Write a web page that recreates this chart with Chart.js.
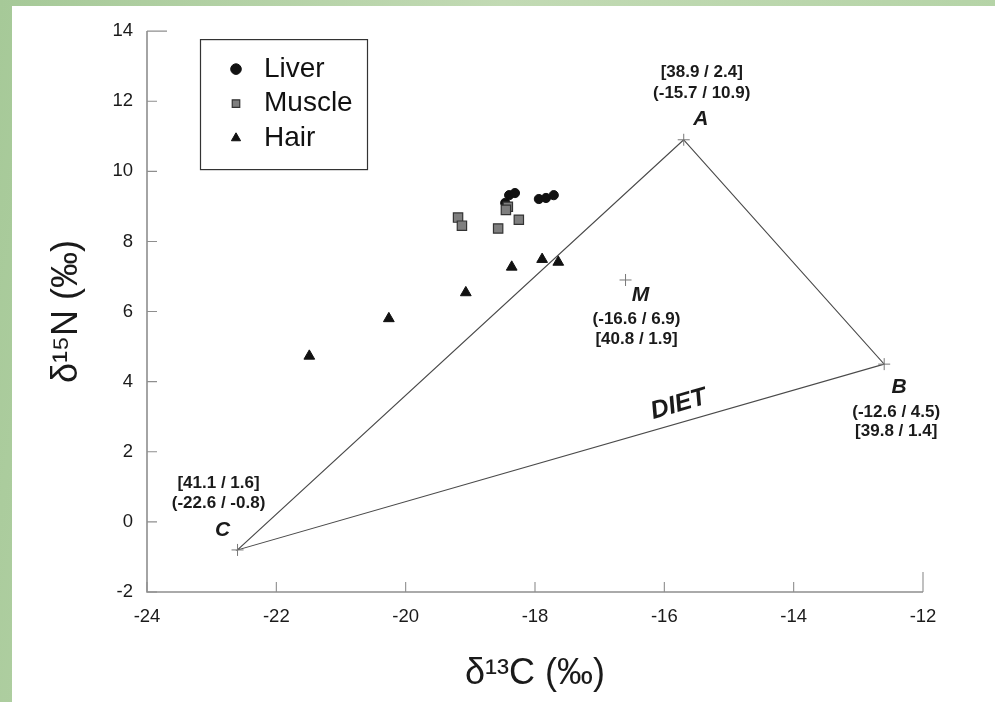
<!DOCTYPE html>
<html>
<head>
<meta charset="utf-8">
<script src="https://cdn.jsdelivr.net/npm/chart.js@4.4.0/dist/chart.umd.min.js"></script>
<style>
  html, body { margin: 0; padding: 0; }
  body {
    width: 995px; height: 702px; overflow: hidden; position: relative;
    background: linear-gradient(100deg, #a6c998, #c2dab4 45%, #b2d2a4);
  }
  #panel { position: absolute; left: 12px; top: 6px; width: 983px; height: 696px; background: #fff; }
</style>
</head>
<body>
<div id="panel"><canvas id="isoChart" width="983" height="696"></canvas></div>
<script>
// tissue samples (d13C, d15N)
const liverC  = [-18.40, -18.31, -18.46, -17.94, -17.83, -17.71];
const liverN  = [9.32, 9.38, 9.10, 9.21, 9.24, 9.32];
const muscleC = [-19.19, -19.13, -18.57, -18.25, -18.42, -18.45];
const muscleN = [8.68, 8.45, 8.37, 8.62, 8.99, 8.90];
const hairC   = [-21.49, -20.26, -19.07, -18.36, -17.89, -17.64];
const hairN   = [4.73, 5.80, 6.54, 7.27, 7.49, 7.41];

// diet sources A, B, C and mixture M
const vertexNames = ['A', 'B', 'C', 'M'];
const vertexC  = [-15.7, -12.6, -22.6, -16.6];
const vertexN  = [10.9, 4.5, -0.8, 6.9];
const vertexCN = [38.9, 39.8, 41.1, 40.8];
const vertexSD = [2.4, 1.4, 1.6, 1.9];

const xTicks = [-24, -22, -20, -18, -16, -14, -12];
const yTicks = [-2, 0, 2, 4, 6, 8, 10, 12, 14];

const family = '"Liberation Sans", Arial, Helvetica, sans-serif';
const ink = '#1a1a1a';

function pts(xs, ys) {
  return xs.map((v, i) => ({x: v, y: ys[i]}));
}
// closed diet triangle A-B-C-A
const triangle = [0, 1, 2, 0].map(i => ({x: vertexC[i], y: vertexN[i]}));

const axisLines = {
  id: 'axisLines',
  beforeDatasetsDraw(chart) {
    const {ctx, chartArea: a, scales: {x, y}} = chart;
    ctx.save();
    ctx.strokeStyle = '#8e8e8e';
    ctx.lineWidth = 1.6;
    ctx.beginPath();
    ctx.moveTo(a.left, a.top);
    ctx.lineTo(a.left, a.bottom);
    ctx.lineTo(a.right, a.bottom);
    ctx.stroke();
    ctx.lineWidth = 1.1;
    ctx.beginPath();
    xTicks.forEach(v => {
      const px = x.getPixelForValue(v);
      const len = v === xTicks[xTicks.length - 1] ? 20 : 10;
      ctx.moveTo(px, a.bottom);
      ctx.lineTo(px, a.bottom - len);
    });
    yTicks.forEach(v => {
      const py = y.getPixelForValue(v);
      const len = v === yTicks[yTicks.length - 1] ? 20 : 10;
      ctx.moveTo(a.left, py);
      ctx.lineTo(a.left + len, py);
    });
    ctx.stroke();
    ctx.restore();
  }
};

// where the three text lines sit around each vertex: [letter, (C / N), [CN / SD]]
const labelOffsets = {
  A: [[17, -21], [18, -46], [18, -67]],
  B: [[15, 23], [12, 48], [12, 67]],
  C: [[-15, -20], [-19, -47], [-19, -67]],
  M: [[15, 15], [11, 39], [11, 59]]
};

const vertexLabels = {
  id: 'vertexLabels',
  afterDatasetsDraw(chart) {
    const {ctx, scales: {x, y}} = chart;
    ctx.save();
    ctx.fillStyle = ink;
    ctx.textAlign = 'center';
    ctx.textBaseline = 'middle';
    vertexNames.forEach((name, i) => {
      const px = x.getPixelForValue(vertexC[i]);
      const py = y.getPixelForValue(vertexN[i]);
      const off = labelOffsets[name];
      ctx.font = 'italic bold 21px ' + family;
      ctx.fillText(name, px + off[0][0], py + off[0][1]);
      ctx.font = 'bold 17px ' + family;
      ctx.fillText('(' + vertexC[i].toFixed(1) + ' / ' + vertexN[i].toFixed(1) + ')', px + off[1][0], py + off[1][1]);
      ctx.fillText('[' + vertexCN[i].toFixed(1) + ' / ' + vertexSD[i].toFixed(1) + ']', px + off[2][0], py + off[2][1]);
    });
    // DIET along the C-B edge
    const cx = x.getPixelForValue(vertexC[2]), cy = y.getPixelForValue(vertexN[2]);
    const bx = x.getPixelForValue(vertexC[1]), by = y.getPixelForValue(vertexN[1]);
    const t = 0.69;
    ctx.translate(cx + t * (bx - cx), cy + t * (by - cy));
    ctx.rotate(Math.atan2(by - cy, bx - cx));
    ctx.font = 'italic bold 25px ' + family;
    ctx.fillText('DIET', 0, -18);
    ctx.restore();
  }
};

const legendPlace = {
  id: 'legendPlace',
  afterLayout(chart) {
    const a = chart.chartArea;
    chart.legend.left = a.left + 68.5;
    chart.legend.top = a.top + 17.5;
  },
  afterDraw(chart) {
    const {ctx, chartArea: a} = chart;
    ctx.save();
    ctx.strokeStyle = '#333';
    ctx.lineWidth = 1.2;
    ctx.strokeRect(a.left + 53.5, a.top + 8.5, 167, 130);
    ctx.restore();
  }
};

const ctx = document.getElementById('isoChart').getContext('2d');

const isoChart = new Chart(ctx, {
  type: 'scatter',
  data: {
    datasets: [{
      label: 'Liver',
      data: pts(liverC, liverN),
      pointStyle: 'circle',
      pointRadius: 4.6,
      backgroundColor: '#111',
      borderColor: '#111',
      borderWidth: 1,
      order: 3
    }, {
      label: 'Muscle',
      data: pts(muscleC, muscleN),
      pointStyle: 'rect',
      pointRadius: 6.6,
      backgroundColor: '#7f7f7f',
      borderColor: '#333',
      borderWidth: 1.2,
      order: 2
    }, {
      label: 'Hair',
      data: pts(hairC, hairN),
      pointStyle: 'triangle',
      pointRadius: 6.2,
      backgroundColor: '#111',
      borderColor: '#111',
      borderWidth: 1,
      order: 1
    }, {
      label: 'diet',
      data: triangle,
      showLine: true,
      fill: false,
      pointRadius: 0,
      borderColor: '#4a4a4a',
      borderWidth: 1.1,
      order: 5
    }, {
      label: 'sources',
      data: pts(vertexC, vertexN),
      pointStyle: 'cross',
      pointRadius: 6,
      borderColor: '#777',
      borderWidth: 1,
      order: 4
    }]
  },
  options: {
    responsive: false,
    animation: false,
    layout: { padding: { left: 0, right: 72, top: 18, bottom: 0 } },
    plugins: {
      tooltip: { enabled: false },
      legend: {
        position: 'chartArea',
        align: 'start',
        labels: {
          usePointStyle: true,
          boxWidth: 28,
          boxHeight: 7.5,
          padding: 6.5,
          color: '#111',
          font: { size: 28, family: family },
          filter: item => item.datasetIndex < 3,
          sort: (a, b) => a.datasetIndex - b.datasetIndex
        }
      }
    },
    scales: {
      x: {
        type: 'linear',
        min: -24,
        max: -12,
        grid: { display: false, drawTicks: false },
        border: { display: false },
        ticks: { stepSize: 2, color: ink, padding: 14, font: { size: 18.5, family: family } },
        title: {
          display: true,
          text: 'δ¹³C (‰)',
          color: ink,
          font: { size: 36, family: family },
          padding: { top: 0, bottom: 6 }
        },
        afterFit: s => { s.height = 110; }
      },
      y: {
        type: 'linear',
        min: -2,
        max: 14,
        grid: { display: false, drawTicks: false },
        border: { display: false },
        ticks: { stepSize: 2, color: ink, padding: 14, font: { size: 18.5, family: family } },
        title: {
          display: true,
          text: 'δ¹⁵N (‰)',
          color: ink,
          font: { size: 36, family: family },
          padding: { top: 33, bottom: 0 }
        },
        afterFit: s => { s.width = 135; }
      }
    }
  },
  plugins: [axisLines, vertexLabels, legendPlace]
});
</script>
</body>
</html>
